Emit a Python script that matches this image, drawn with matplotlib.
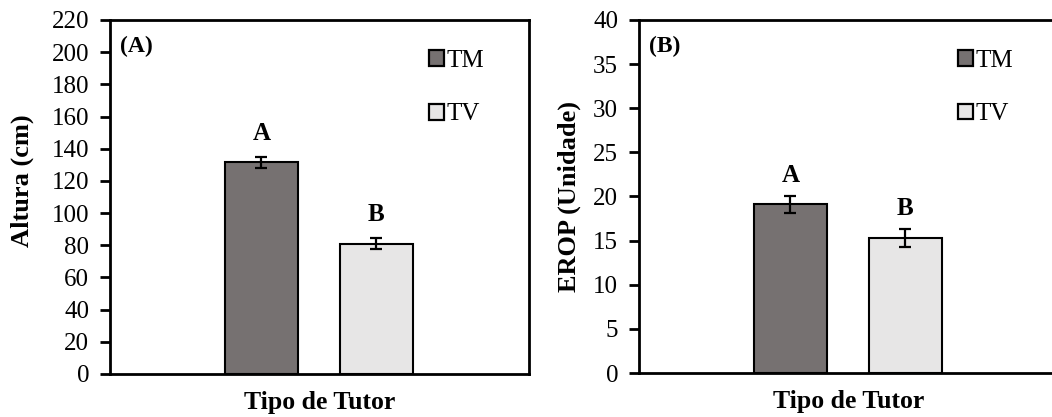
import numpy as np
import matplotlib
matplotlib.use('Agg')
import matplotlib.pyplot as plt
from matplotlib.patches import Patch

plt.rcParams['font.family'] = ['Liberation Serif', 'DejaVu Serif']

tutores = ['TM', 'TV']
cores = ['#767171', '#E7E6E6']
letras = ['A', 'B']

altura = [131.5, 81]
altura_err = [3.3, 3.3]

erop = [19.1, 15.3]
erop_err = [1.0, 1.0]

W, H = 1052, 417
fig = plt.figure(figsize=(W/100, H/100), dpi=100)

def make_axes(left_px, right_px, top_px, bottom_px):
    return fig.add_axes([left_px/W, 1 - bottom_px/H, (right_px-left_px)/W, (bottom_px-top_px)/H])

axA = make_axes(110, 529, 20, 374)
axB = make_axes(639, 1058, 20, 373)

x = np.arange(len(tutores))

def painel(ax, vals, errs, ymax, ystep, ylabel, tag, offset, ylab_xy):
    ax.bar(x, vals, width=0.63, color=cores, edgecolor='black', linewidth=1.5,
           yerr=errs, capsize=4.3, error_kw=dict(elinewidth=1.6, capthick=1.6, ecolor='black'))
    ax.set_xlim(-1.316, 2.328)
    ax.set_ylim(0, ymax)
    ax.set_yticks(np.arange(0, ymax + ystep/2, ystep))
    ax.set_xticks([])
    for s in ax.spines.values():
        s.set_linewidth(2)
    ax.tick_params(axis='y', direction='out', length=7, width=2, labelsize=18, pad=8)
    ax.set_ylabel(ylabel, fontsize=19, fontweight='bold', va='center')
    ax.yaxis.set_label_coords(ylab_xy[0], ylab_xy[1])
    ax.set_xlabel('Tipo de Tutor', fontsize=18.5, fontweight='bold', labelpad=12)
    for i in range(len(vals)):
        ax.annotate(letras[i], (x[i], vals[i] + errs[i]), xytext=(0, offset),
                    textcoords='offset points', ha='center', va='bottom',
                    fontsize=18, fontweight='bold')
    ax.text(0.024, 0.955, tag, transform=ax.transAxes, ha='left', va='top',
            fontsize=17, fontweight='bold')
    handles = [Patch(facecolor=cores[i], edgecolor='black', linewidth=1.6, label=tutores[i])
               for i in range(len(tutores))]
    ax.legend(handles=handles, loc='upper left', bbox_to_anchor=(0.738, 0.943), frameon=False,
              fontsize=18, handlelength=0.6, handleheight=0.6, handletextpad=0.1,
              labelspacing=1.25, borderaxespad=0)

painel(axA, altura, altura_err, 220, 20, 'Altura (cm)', '(A)', 9, (-0.209, 0.545))
painel(axB, erop, erop_err, 40, 5, 'EROP (Unidade)', '(B)', 6.5, (-0.167, 0.5))

fig.savefig('out.png', dpi=100)
